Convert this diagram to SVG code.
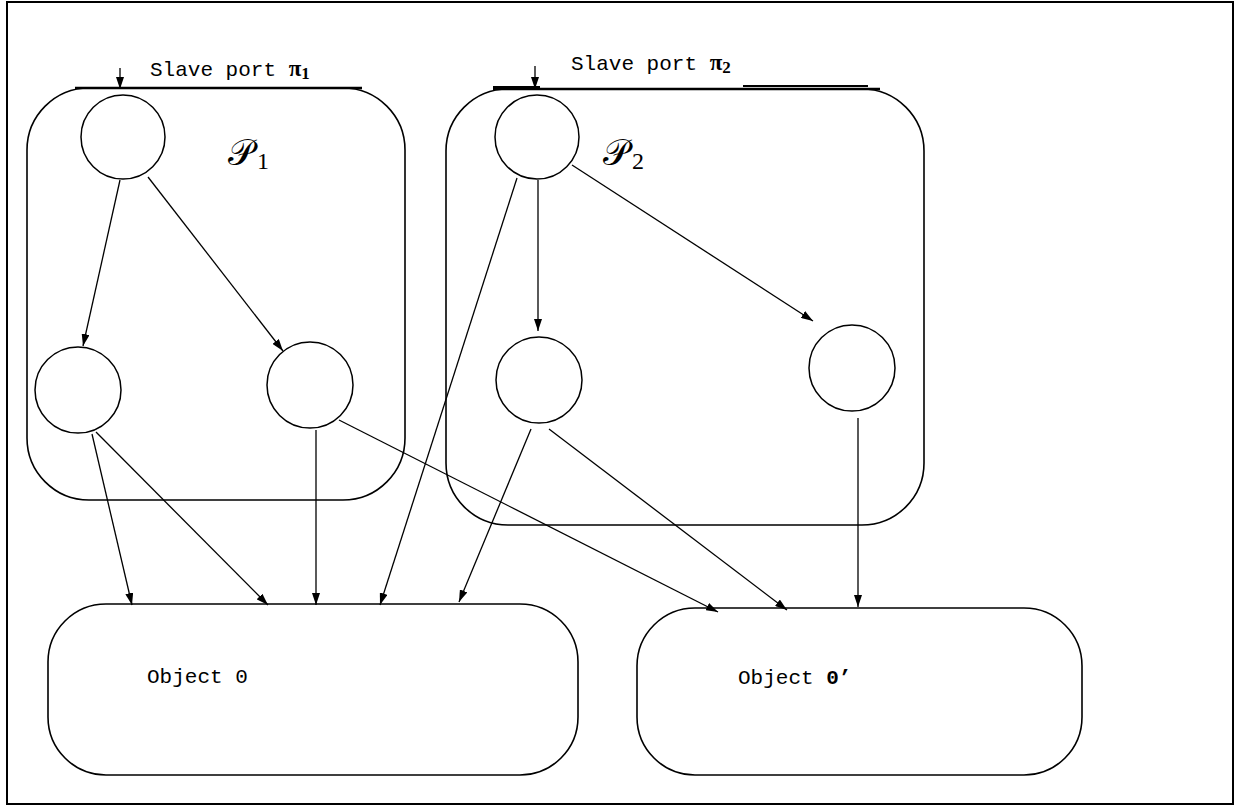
<svg xmlns="http://www.w3.org/2000/svg" width="1238" height="806" viewBox="0 0 1238 806">
  <defs>
    <marker id="arrow" viewBox="0 0 12 8" refX="12" refY="4" markerWidth="12" markerHeight="8" markerUnits="userSpaceOnUse" orient="auto">
      <path d="M0,0 L12,4 L0,8 Z" fill="#000"/>
    </marker>
    <style>
      .frame { fill: none; stroke: #000; stroke-width: 2; }
      .box { fill: none; stroke: #000; stroke-width: 1.6; }
      .node { fill: #fff; stroke: #000; stroke-width: 1.5; }
      .edge { fill: none; stroke: #000; stroke-width: 1.3; marker-end: url(#arrow); }
      .mono { font-family: "Liberation Mono", "Courier New", monospace; font-size: 21px; fill: #000; }
      .pi { font-family: "Liberation Serif", "Times New Roman", serif; font-weight: bold; font-size: 23px; }
      .sub { font-family: "Liberation Serif", "Times New Roman", serif; font-weight: bold; font-size: 17px; }
      .cal { font-family: "DejaVu Serif", "Liberation Serif", serif; font-size: 36px; fill: #000; }
      .calsub { font-family: "Liberation Serif", "Times New Roman", serif; font-size: 24px; fill: #000; }
    </style>
  </defs>

  <rect class="frame" x="7" y="2" width="1226" height="802"/>

  <!-- process boxes -->
  <g id="process-p1">
    <rect class="box" x="27" y="88" width="378" height="412" rx="62"/>
    <line x1="75" y1="88" x2="362" y2="88" stroke="#000" stroke-width="2.6"/>
    <text class="cal" x="228" y="165">𝒫<tspan class="calsub" dx="3" dy="4">1</tspan></text>
  </g>
  <g id="process-p2">
    <rect class="box" x="446" y="89" width="478" height="436" rx="62"/>
    <line x1="493" y1="89" x2="880" y2="89" stroke="#000" stroke-width="2.6"/>
    <line x1="743" y1="86" x2="868" y2="86" stroke="#000" stroke-width="2"/>
    <line x1="493" y1="87" x2="540" y2="87" stroke="#000" stroke-width="2"/>
    <text class="cal" x="603" y="165">𝒫<tspan class="calsub" dx="3" dy="4">2</tspan></text>
  </g>

  <!-- slave port labels -->
  <g id="port-pi1">
    <text class="mono" x="150" y="76">Slave port <tspan class="pi">π</tspan><tspan class="sub" dy="3">1</tspan></text>
  </g>
  <g id="port-pi2">
    <text class="mono" x="571" y="70">Slave port <tspan class="pi">π</tspan><tspan class="sub" dy="3">2</tspan></text>
  </g>

  <!-- objects -->
  <g id="object-o">
    <rect class="box" x="48" y="604" width="530" height="171" rx="58"/>
    <text class="mono" x="147" y="683">Object 0</text>
  </g>
  <g id="object-o-prime">
    <rect class="box" x="637" y="608" width="445" height="167" rx="58"/>
    <text class="mono" x="738" y="684">Object <tspan font-weight="bold">0’</tspan></text>
  </g>

  <!-- nodes -->
  <g id="p1-top"><circle class="node" cx="123" cy="137" r="42"/></g>
  <g id="p1-left"><circle class="node" cx="78" cy="390" r="43"/></g>
  <g id="p1-right"><circle class="node" cx="310" cy="385" r="43"/></g>
  <g id="p2-top"><circle class="node" cx="537" cy="137" r="42"/></g>
  <g id="p2-left"><circle class="node" cx="539" cy="380" r="43"/></g>
  <g id="p2-right"><circle class="node" cx="852" cy="368" r="43"/></g>

  <!-- connectors -->
  <g id="connectors">
    <line class="edge" x1="120" y1="68" x2="120" y2="89"/>
    <line class="edge" x1="535" y1="66" x2="535" y2="89"/>

    <line class="edge" x1="120" y1="180" x2="83" y2="346"/>
    <line class="edge" x1="148" y1="177" x2="283" y2="351"/>
    <line class="edge" x1="92" y1="434" x2="132" y2="605"/>
    <line class="edge" x1="96" y1="432" x2="268" y2="605"/>
    <line class="edge" x1="316" y1="430" x2="316" y2="605"/>
    <line class="edge" x1="339" y1="420" x2="718" y2="612"/>

    <line class="edge" x1="517" y1="178" x2="380" y2="605"/>
    <line class="edge" x1="538" y1="180" x2="538" y2="331"/>
    <line class="edge" x1="572" y1="165" x2="813" y2="321"/>
    <line class="edge" x1="531" y1="429" x2="459" y2="602"/>
    <line class="edge" x1="549" y1="429" x2="787" y2="610"/>
    <line class="edge" x1="858" y1="418" x2="858" y2="607"/>
  </g>
</svg>
